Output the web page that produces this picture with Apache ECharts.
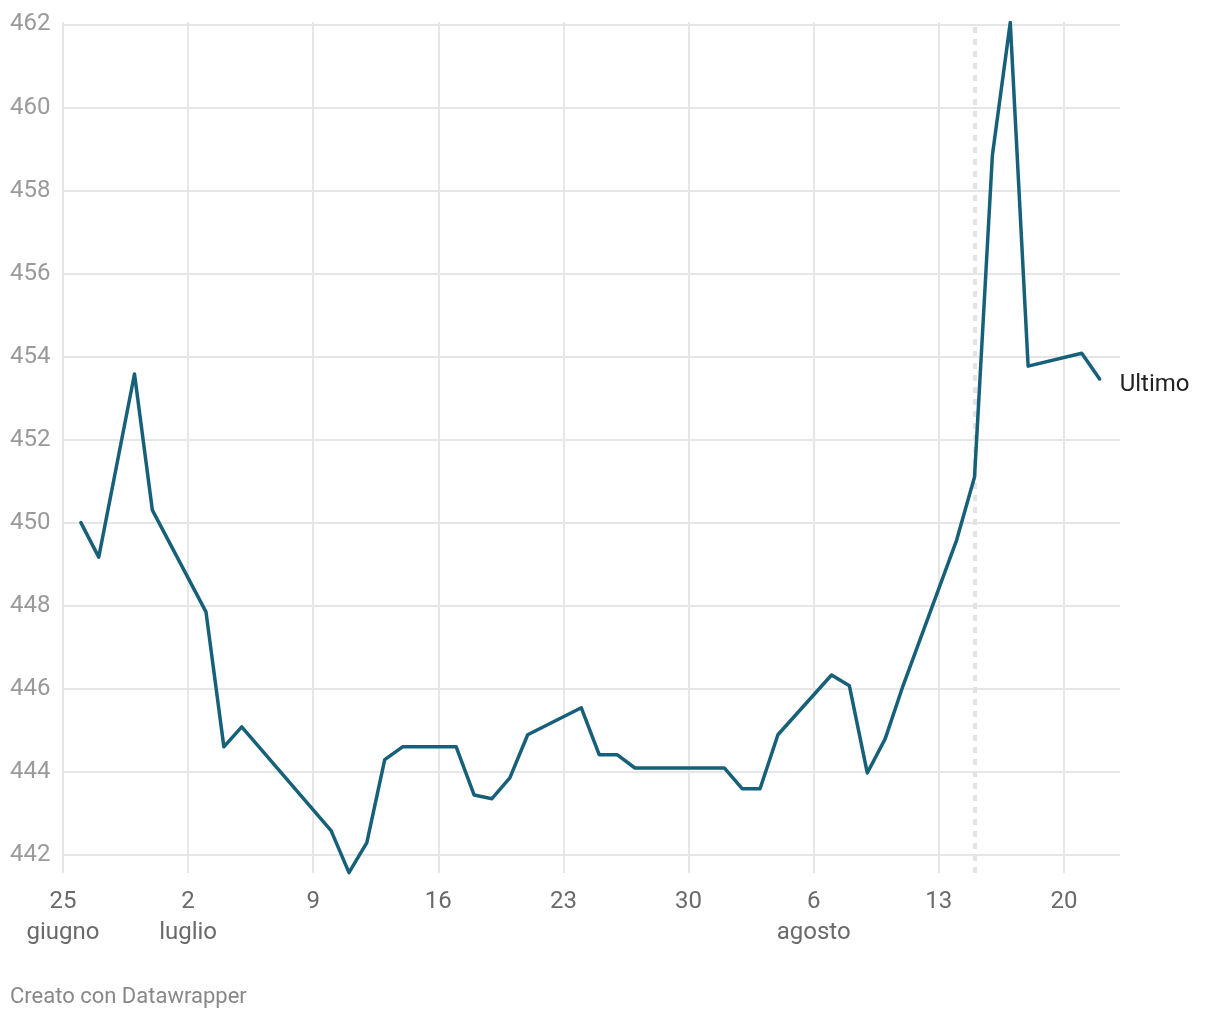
<!DOCTYPE html>
<html>
<head>
<meta charset="utf-8">
<script src="https://cdn.jsdelivr.net/npm/echarts@6/dist/echarts.min.js"></script>
<style>
html,body{margin:0;padding:0;background:#fff;}
#chart{width:1220px;height:1020px;}
</style>
</head>
<body>
<div id="chart"></div>
<script>
// ---- data ----
const dates = ['2023-06-26','2023-06-27','2023-06-29','2023-06-30','2023-07-03','2023-07-04','2023-07-05',
  '2023-07-10','2023-07-11','2023-07-12','2023-07-13','2023-07-14','2023-07-17','2023-07-18','2023-07-19',
  '2023-07-20','2023-07-21','2023-07-24','2023-07-25','2023-07-26','2023-07-27','2023-08-01','2023-08-02',
  '2023-08-03','2023-08-04','2023-08-07','2023-08-08','2023-08-09','2023-08-10','2023-08-11','2023-08-14',
  '2023-08-15','2023-08-16','2023-08-17','2023-08-18','2023-08-21','2023-08-22'];
const values = [450.0, 449.17, 453.58, 450.3, 447.85, 444.6, 445.08,
  442.58, 441.57, 442.29, 444.29, 444.6, 444.6, 443.44, 443.35,
  443.85, 444.89, 445.54, 444.41, 444.41, 444.09, 444.09, 443.59,
  443.59, 444.89, 446.33, 446.07, 443.97, 444.79, 446.07, 449.58,
  451.1, 458.85, 462.05, 453.77, 454.08, 453.46];
const xTickDates = ['2023-06-25','2023-07-02','2023-07-09','2023-07-16','2023-07-23','2023-07-30','2023-08-06','2023-08-13','2023-08-20'];
const yTicks = [442, 444, 446, 448, 450, 452, 454, 456, 458, 460, 462];
const monthNames = ['gennaio','febbraio','marzo','aprile','maggio','giugno','luglio','agosto','settembre','ottobre','novembre','dicembre'];
const markerDate = '2023-08-15';
const endLabelText = 'Ultimo';
const footerText = 'Creato con Datawrapper';

// ---- build ----
const DAY = 86400000;
const ts = s => Date.parse(s + 'T00:00:00Z');
const seriesData = dates.map((d, i) => [ts(d), values[i]]);
const xTicks = xTickDates.map(ts);
const xMin = ts('2023-06-25');
const xMax = ts('2023-08-20') + 3.14 * DAY;

const chart = echarts.init(document.getElementById('chart'), null, {renderer: 'canvas'});
const font = 'Roboto, "Noto Sans", sans-serif';
chart.setOption({
  animation: false,
  textStyle: {fontFamily: font},
  grid: {left: 63, right: 100, top: 22, bottom: 147, containLabel: false},
  xAxis: {
    type: 'value',
    min: xMin,
    max: xMax,
    axisLine: {show: false},
    axisTick: {show: false, customValues: xTicks},
    splitLine: {show: true, lineStyle: {color: '#e6e6e6', width: 2}},
    axisLabel: {
      customValues: xTicks,
      margin: 13,
      color: '#6a6a6a',
      fontSize: 24,
      lineHeight: 31,
      fontFamily: font,
      hideOverlap: false,
      showMinLabel: true,
      showMaxLabel: true,
      formatter: function (val) {
        const d = new Date(val);
        const day = d.getUTCDate();
        const isFirst = Math.abs(val - xTicks[0]) < DAY / 2;
        if (isFirst || day <= 7) return day + '\n' + monthNames[d.getUTCMonth()];
        return String(day);
      }
    }
  },
  yAxis: {
    type: 'value',
    min: 441.56,
    max: 462.06,
    axisLine: {show: false},
    axisTick: {show: false, customValues: yTicks},
    splitLine: {show: true, lineStyle: {color: '#e6e6e6', width: 2}},
    axisLabel: {
      customValues: yTicks,
      align: 'left',
      margin: 53,
      color: '#9a9a9a',
      fontSize: 24,
      fontFamily: font,
      showMinLabel: true,
      showMaxLabel: true,
      formatter: v => String(v)
    }
  },
  series: [
    {
      type: 'line',
      data: [],
      z: 1,
      silent: true,
      markLine: {
        silent: true,
        z: 1,
        symbol: ['none', 'none'],
        label: {show: false},
        lineStyle: {color: '#e3e3e3', width: 4, type: [6, 6]},
        data: [{xAxis: ts(markerDate)}]
      }
    },
    {
      type: 'line',
      data: seriesData,
      z: 3,
      showSymbol: false,
      symbol: 'none',
      clip: false,
      lineStyle: {color: '#17607a', width: 3.5, join: 'round', cap: 'round'},
      endLabel: {
        show: true,
        formatter: endLabelText,
        color: '#222',
        fontSize: 24,
        fontFamily: font,
        distance: 20,
        offset: [0, 6]
      }
    }
  ],
  graphic: [{
    type: 'text',
    left: 10,
    top: 986,
    style: {text: footerText, fill: '#888', fontSize: 22, fontFamily: font}
  }]
});
</script>
</body>
</html>
